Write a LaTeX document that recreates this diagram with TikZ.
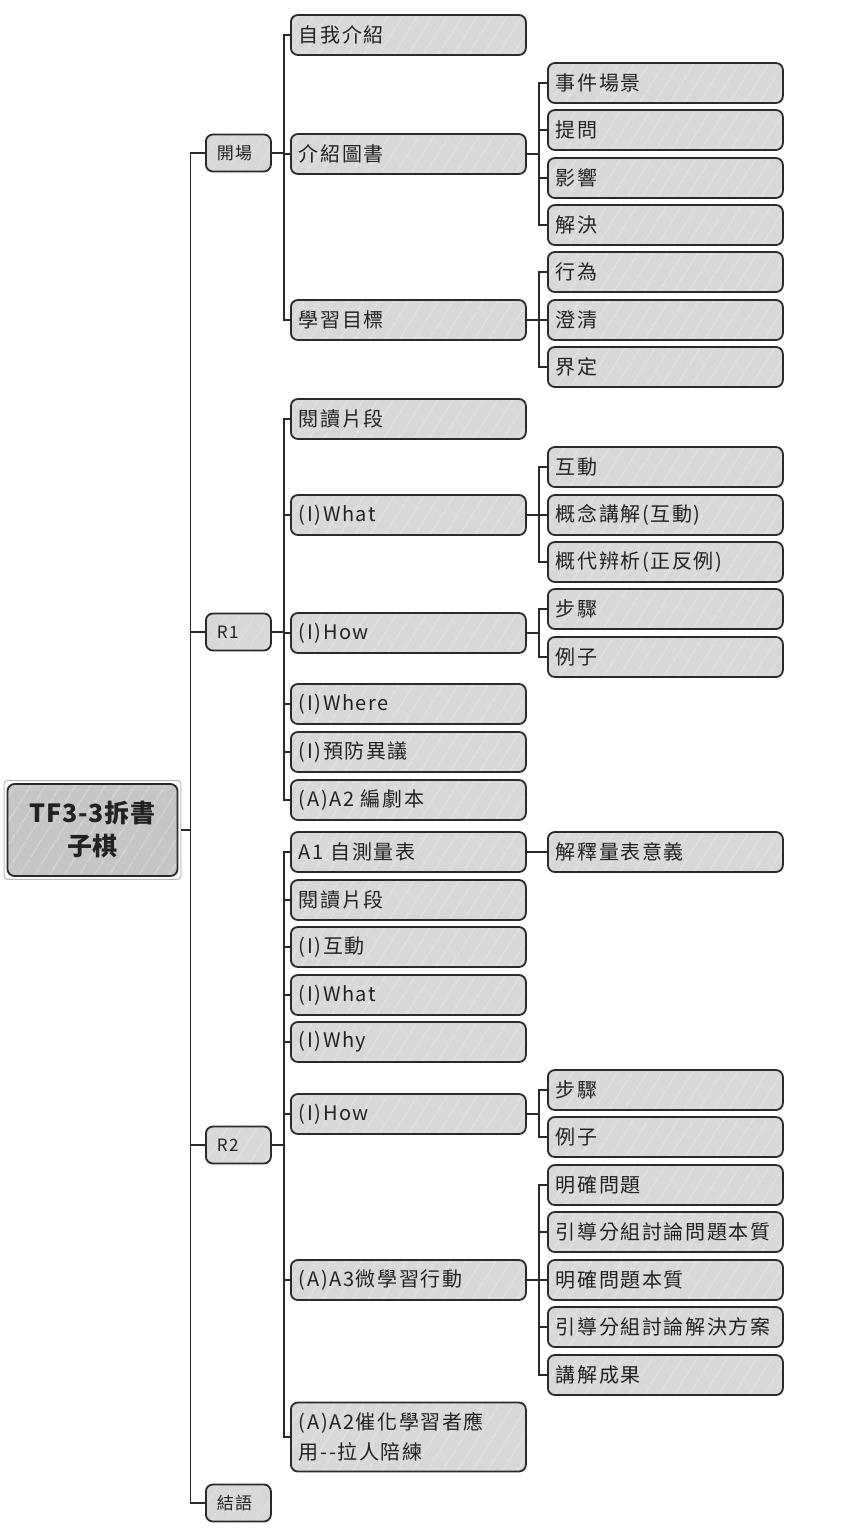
\documentclass[tikz,border=0pt]{standalone}
\usepackage{fontspec}
\setmainfont{Noto Sans CJK TC}
\newfontfamily\spacedfont[LetterSpace=8]{Noto Sans CJK TC}
\newfontfamily\rootfont[LetterSpace=3]{Noto Sans CJK TC}
\usetikzlibrary{fit,patterns.meta}
\definecolor{boxfill}{HTML}{D8D8D8}
\definecolor{rootfill}{HTML}{C6C6C6}
\definecolor{edge}{HTML}{2A2A2A}
\definecolor{ink}{HTML}{222222}
\tikzset{
  sketch/.style={draw=edge, line width=1.8pt, rounded corners=7pt,
    preaction={fill=#1},
    pattern={Lines[angle=58,distance=13pt,line width=0.6pt]}, pattern color=white!60!#1,
    text=ink},
  lvone/.style={sketch=boxfill, anchor=west, minimum height=37pt, text width=43pt,
    inner xsep=11pt, inner ysep=0pt, align=left, font=\spacedfont\fontsize{17}{20}\selectfont},
  lvtwo/.style={sketch=boxfill, anchor=west, minimum height=40pt, text width=219pt,
    inner xsep=8pt, inner ysep=0pt, align=left, font=\spacedfont\fontsize{20}{30}\selectfont},
  lvthree/.style={lvtwo},
  rootbox/.style={sketch=rootfill, minimum width=170pt, minimum height=92pt,
    align=center, font=\rootfont\bfseries\fontsize{25}{33}\selectfont},
  rootframe/.style={draw=gray!55, line width=1pt, rounded corners=3pt, inner sep=3pt},
  conn/.style={draw=edge, line width=1.5pt}
}
\begin{document}
\begin{tikzpicture}[x=1pt,y=-1pt]
\useasboundingbox (0,0) rectangle (858,1536);
% root
\node[rootbox] (root) at (92.5,830) {TF3-3拆書\\子棋};
\node[rootframe, fit=(root)] (rootf) {};
% level 1
\node[lvone] (open) at (205,153) {開場};
\node[lvone] (r1) at (205,632) {R1};
\node[lvone] (r2) at (205,1145) {R2};
\node[lvone] (fin) at (205,1503) {結語};
% level 2 : open
\node[lvtwo] (a1) at (290,35) {自我介紹};
\node[lvtwo] (a2) at (290,154) {介紹圖書};
\node[lvtwo] (a3) at (290,320) {學習目標};
% level 3 : open
\node[lvthree] (a21) at (547,83) {事件場景};
\node[lvthree] (a22) at (547,130) {提問};
\node[lvthree] (a23) at (547,178) {影響};
\node[lvthree] (a24) at (547,225) {解決};
\node[lvthree] (a31) at (547,272) {行為};
\node[lvthree] (a32) at (547,320) {澄清};
\node[lvthree] (a33) at (547,367) {界定};
% level 2 : R1
\node[lvtwo] (b1) at (290,419) {閱讀片段};
\node[lvtwo] (b2) at (290,515) {(I)What};
\node[lvtwo] (b3) at (290,633) {(I)How};
\node[lvtwo] (b4) at (290,704) {(I)Where};
\node[lvtwo] (b5) at (290,752) {(I)預防異議};
\node[lvtwo] (b6) at (290,800) {(A)A2 編劇本};
\node[lvthree] (b21) at (547,467) {互動};
\node[lvthree] (b22) at (547,515) {概念講解(互動)};
\node[lvthree] (b23) at (547,562) {概代辨析(正反例)};
\node[lvthree] (b31) at (547,609) {步驟};
\node[lvthree] (b32) at (547,657) {例子};
% level 2 : R2
\node[lvtwo] (c1) at (290,852) {A1 自測量表};
\node[lvtwo] (c2) at (290,900) {閱讀片段};
\node[lvtwo] (c3) at (290,947) {(I)互動};
\node[lvtwo] (c4) at (290,995) {(I)What};
\node[lvtwo] (c5) at (290,1042) {(I)Why};
\node[lvtwo] (c6) at (290,1114) {(I)How};
\node[lvtwo] (c7) at (290,1280) {(A)A3微學習行動};
\node[lvtwo, minimum height=69pt] (c8) at (290,1437) {(A)A2催化學習者應\\用-{}-拉人陪練};
\node[lvthree] (c11) at (547,852) {解釋量表意義};
\node[lvthree] (c61) at (547,1090) {步驟};
\node[lvthree] (c62) at (547,1137) {例子};
\node[lvthree] (c71) at (547,1185) {明確問題};
\node[lvthree] (c72) at (547,1232) {引導分組討論問題本質};
\node[lvthree] (c73) at (547,1280) {明確問題本質};
\node[lvthree] (c74) at (547,1327) {引導分組討論解決方案};
\node[lvthree] (c75) at (547,1375) {講解成果};
% connectors
\foreach \c in {open,r1,r2,fin} \draw[conn] (rootf.east) -- ++(9,0) |- (\c.west);
\foreach \c in {a1,a2,a3} \draw[conn] (open.east) -- ++(12,0) |- (\c.west);
\foreach \c in {a21,a22,a23,a24} \draw[conn] (a2.east) -- ++(12,0) |- (\c.west);
\foreach \c in {a31,a32,a33} \draw[conn] (a3.east) -- ++(12,0) |- (\c.west);
\foreach \c in {b1,b2,b3,b4,b5,b6} \draw[conn] (r1.east) -- ++(12,0) |- (\c.west);
\foreach \c in {b21,b22,b23} \draw[conn] (b2.east) -- ++(12,0) |- (\c.west);
\foreach \c in {b31,b32} \draw[conn] (b3.east) -- ++(12,0) |- (\c.west);
\foreach \c in {c1,c2,c3,c4,c5,c6,c7,c8} \draw[conn] (r2.east) -- ++(12,0) |- (\c.west);
\draw[conn] (c1.east) -- (c11.west);
\foreach \c in {c61,c62} \draw[conn] (c6.east) -- ++(12,0) |- (\c.west);
\foreach \c in {c71,c72,c73,c74,c75} \draw[conn] (c7.east) -- ++(12,0) |- (\c.west);
\end{tikzpicture}
\end{document}
